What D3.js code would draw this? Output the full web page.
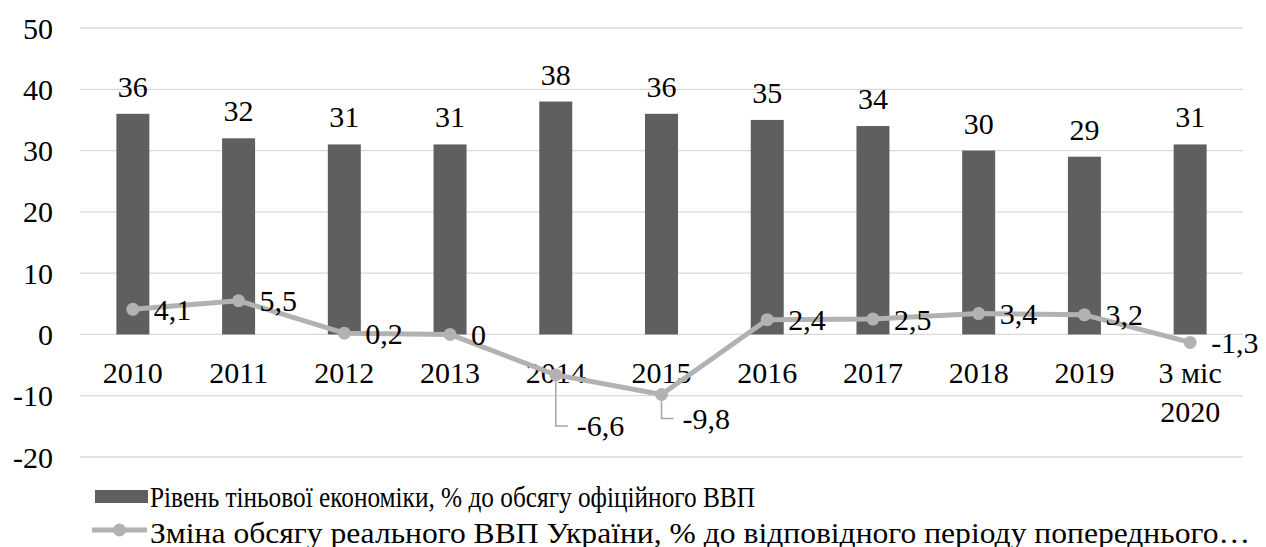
<!DOCTYPE html>
<html>
<head>
<meta charset="utf-8">
<script src="https://cdn.jsdelivr.net/npm/d3@7"></script>
<style>
    body { margin: 0; background: #fff; }
    svg text, svg tspan { font-family: 'Liberation Serif', 'Times New Roman', serif; }
</style>
<script>
    // start the font load early so it is in before the page settles
    if (document.fonts) {
        document.fonts.load('30px "Liberation Serif"', '2010 Рівень');
    }
</script>
</head>
<body>
<svg id="chart" width="1266" height="547"></svg>
<script>
const categories = ['2010', '2011', '2012', '2013', '2014', '2015', '2016', '2017', '2018', '2019', '3 міс\n2020'];
const shadowEconomy = [36, 32, 31, 31, 38, 36, 35, 34, 30, 29, 31];
const gdpChange = [4.1, 5.5, 0.2, 0, -6.6, -9.8, 2.4, 2.5, 3.4, 3.2, -1.3];
const yTicks = [-20, -10, 0, 10, 20, 30, 40, 50];
const seriesNames = [
    'Рівень тіньової економіки, % до обсягу офіційного ВВП',
    'Зміна обсягу реального ВВП України, % до відповідного періоду попереднього…'
];

// labels pulled down below the line with a leader (index -> drop in px)
const leaderDrops = { 4: 51, 5: 24 };
// legend text widths measured in the source picture
const legendWidths = [605, 1100];

const colors = { bar: '#5f5f5f', line: '#b2b2b2', grid: '#d9d9d9', leader: '#a6a6a6', text: '#000' };
const fontSize = 30;

const svg = d3.select('#chart');
const margin = { top: 28, right: 23, bottom: 90, left: 80 };
const width = 1266;
const height = 547;

const x = d3.scaleBand()
    .domain(categories)
    .range([margin.left, width - margin.right])
    .paddingInner(0.688)
    .paddingOuter(0.344);

const y = d3.scaleLinear()
    .domain([-20, 50])
    .range([height - margin.bottom, margin.top]);

const cx = d => x(d) + x.bandwidth() / 2;
const fmt = v => String(v).replace('.', ',');

function styleText(sel, size) {
    return sel
        .attr('font-family', 'Liberation Serif')
        .attr('font-size', size || fontSize)
        .attr('fill', colors.text);
}

// grid
svg.append('g')
    .selectAll('line')
    .data(yTicks)
    .join('line')
    .attr('x1', margin.left)
    .attr('x2', width - margin.right)
    .attr('y1', d => y(d))
    .attr('y2', d => y(d))
    .attr('stroke', colors.grid)
    .attr('stroke-width', 1.3);

// y axis labels
svg.append('g')
    .selectAll('text')
    .data(yTicks)
    .join('text')
    .attr('x', 53)
    .attr('y', d => y(d))
    .attr('dy', '0.35em')
    .attr('text-anchor', 'end')
    .call(styleText)
    .text(d => d);

// bars
svg.append('g')
    .selectAll('rect')
    .data(categories)
    .join('rect')
    .attr('x', d => x(d))
    .attr('width', x.bandwidth())
    .attr('y', (d, i) => y(shadowEconomy[i]))
    .attr('height', (d, i) => y(0) - y(shadowEconomy[i]))
    .attr('fill', colors.bar);

svg.append('g')
    .selectAll('text')
    .data(categories)
    .join('text')
    .attr('x', d => cx(d))
    .attr('y', (d, i) => y(shadowEconomy[i]) - 17)
    .attr('text-anchor', 'middle')
    .call(styleText)
    .text((d, i) => shadowEconomy[i]);

// category labels
const catLabels = svg.append('g')
    .selectAll('text')
    .data(categories)
    .join('text')
    .attr('x', d => cx(d))
    .attr('y', 383)
    .attr('text-anchor', 'middle')
    .call(styleText);

catLabels.selectAll('tspan')
    .data(d => d.split('\n').map(part => ({ part, cat: d })))
    .join('tspan')
    .attr('x', d => cx(d.cat))
    .attr('dy', (d, i) => i === 0 ? 0 : 39)
    .text(d => d.part);

// line series
const line = d3.line()
    .x((d, i) => cx(categories[i]))
    .y(d => y(d));

svg.append('path')
    .datum(gdpChange)
    .attr('d', line)
    .attr('fill', 'none')
    .attr('stroke', colors.line)
    .attr('stroke-width', 5)
    .attr('stroke-linejoin', 'round');

// leader lines
svg.append('g')
    .selectAll('path')
    .data(Object.keys(leaderDrops).map(Number))
    .join('path')
    .attr('d', i => {
        const px = cx(categories[i]);
        const py = y(gdpChange[i]);
        const ly = py + leaderDrops[i];
        return `M${px},${py}V${ly}H${px + 12}`;
    })
    .attr('fill', 'none')
    .attr('stroke', colors.leader)
    .attr('stroke-width', 1.5);

svg.append('g')
    .selectAll('circle')
    .data(gdpChange)
    .join('circle')
    .attr('cx', (d, i) => cx(categories[i]))
    .attr('cy', d => y(d))
    .attr('r', 6.5)
    .attr('fill', colors.line);

svg.append('g')
    .selectAll('text')
    .data(gdpChange)
    .join('text')
    .attr('x', (d, i) => cx(categories[i]) + 21)
    .attr('y', (d, i) => y(d) + (leaderDrops[i] || 0))
    .attr('dy', '0.35em')
    .call(styleText)
    .text(d => fmt(d));

// legend
const legend = svg.append('g');

legend.append('rect')
    .attr('x', 95)
    .attr('y', 490)
    .attr('width', 53)
    .attr('height', 13)
    .attr('fill', colors.bar);

legend.append('line')
    .attr('x1', 92)
    .attr('x2', 147)
    .attr('y1', 530)
    .attr('y2', 530)
    .attr('stroke', colors.line)
    .attr('stroke-width', 5);

legend.append('circle')
    .attr('cx', 119.5)
    .attr('cy', 530)
    .attr('r', 6.5)
    .attr('fill', colors.line);

legend.selectAll('text')
    .data(seriesNames)
    .join('text')
    .attr('x', 150)
    .attr('y', (d, i) => 507 + i * 36)
    .attr('textLength', (d, i) => legendWidths[i])
    .attr('lengthAdjust', 'spacingAndGlyphs')
    .call(styleText, 29)
    .text(d => d);

// force layout now so the text font gets picked up before the snapshot
svg.node().getBBox();
svg.selectAll('text').each(function () { this.getComputedTextLength(); });
</script>
</body>
</html>
